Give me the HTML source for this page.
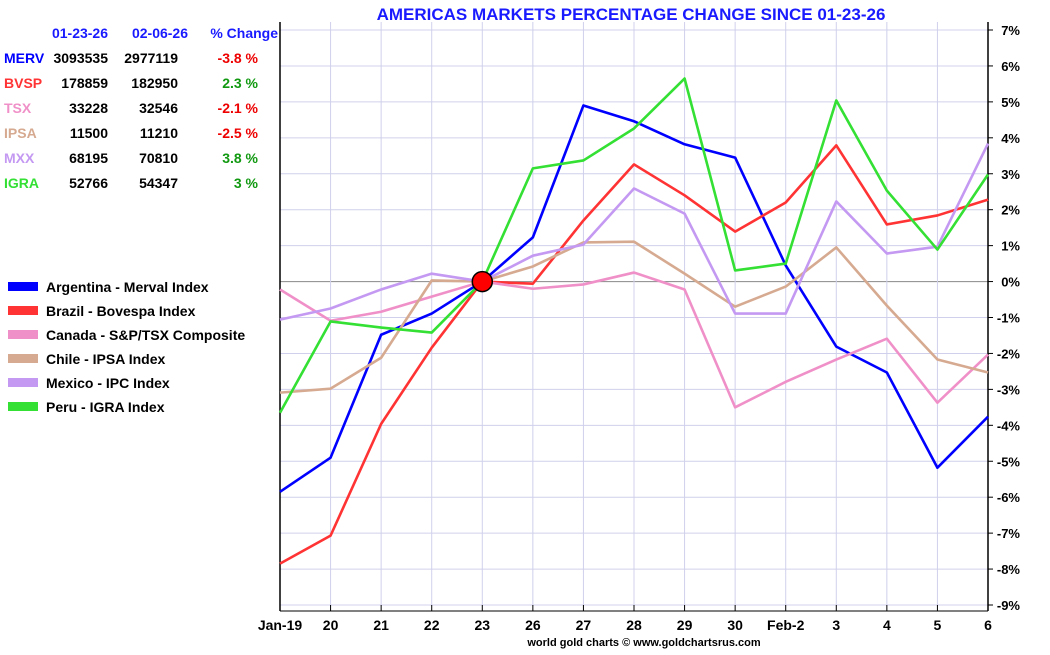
<!DOCTYPE html>
<html><head><meta charset="utf-8"><style>
body{margin:0;background:#fff;width:1050px;height:650px;overflow:hidden;font-family:"Liberation Sans",sans-serif}
svg text{font-family:"Liberation Sans",sans-serif;font-weight:bold}
</style></head><body>
<svg id="chart" width="1050" height="650"></svg>
<script>
const categories=["Jan-19","20","21","22","23","26","27","28","29","30","Feb-2","3","4","5","6"];
const yTicks=[7,6,5,4,3,2,1,0,-1,-2,-3,-4,-5,-6,-7,-8,-9];
const seriesNames=["Argentina - Merval Index","Brazil - Bovespa Index","Canada - S&P/TSX Composite","Chile - IPSA Index","Mexico - IPC Index","Peru - IGRA Index"];
const seriesColors=["#0000ff","#ff3333","#f090c8","#d6aa90","#c499f2","#33e033"];
const argentina=[-5.85,-4.9,-1.48,-0.89,0,1.23,4.9,4.46,3.82,3.45,0.45,-1.81,-2.53,-5.18,-3.76];
const brazil=[-7.85,-7.07,-3.96,-1.84,0,-0.06,1.7,3.26,2.4,1.39,2.2,3.79,1.59,1.84,2.28];
const canada=[-0.22,-1.09,-0.84,-0.42,0,-0.2,-0.08,0.25,-0.22,-3.5,-2.79,-2.17,-1.59,-3.37,-2.03];
const chile=[-3.09,-2.98,-2.12,0.03,0,0.42,1.09,1.11,0.22,-0.7,-0.14,0.95,-0.67,-2.17,-2.53];
const mexico=[-1.06,-0.75,-0.22,0.22,0,0.72,1.03,2.59,1.89,-0.89,-0.89,2.23,0.78,0.97,3.84];
const peru=[-3.65,-1.11,-1.28,-1.42,0,3.15,3.37,4.26,5.65,0.31,0.5,5.04,2.53,0.89,2.98];
const tableRows=[["MERV","3093535","2977119","-3.8 %"],["BVSP","178859","182950","2.3 %"],["TSX","33228","32546","-2.1 %"],["IPSA","11500","11210","-2.5 %"],["MXX","68195","70810","3.8 %"],["IGRA","52766","54347","3 %"]];
const allSeries=[argentina,brazil,canada,chile,mexico,peru];
const NS="http://www.w3.org/2000/svg";
const svg=document.getElementById("chart");
const X0=280,X1=988,Y7=30,Y9=605;
function xs(i){return X0+(X1-X0)*i/(categories.length-1);}
function ys(v){return Y7+(7-v)*(Y9-Y7)/16;}
function mk(tag,attrs,parent){const e=document.createElementNS(NS,tag);for(const k in attrs)e.setAttribute(k,attrs[k]);(parent||svg).appendChild(e);return e;}
function txt(s,attrs,parent){const e=mk("text",attrs,parent);e.textContent=s;return e;}
// grid
yTicks.forEach(v=>{
 const l=mk("line",{x1:X0,x2:X1,y1:ys(v),y2:ys(v),stroke:v===0?"#888":"#d0d0ec","stroke-width":1});
 
 
 mk("line",{x1:X1,x2:X1+5,y1:ys(v),y2:ys(v),stroke:"#000"});
 const t=txt(v+"%",{x:1020,y:ys(v)+5,"font-size":13,"text-anchor":"end",fill:"#000"});
 
 
});
categories.forEach((c,i)=>{
 const l=mk("line",{x1:xs(i),x2:xs(i),y1:Y7-8,y2:Y9,stroke:"#d0d0ec"});
 
 
 mk("line",{x1:xs(i),x2:xs(i),y1:Y9,y2:Y9+6,stroke:"#000"});
 const t=txt(c,{x:xs(i),y:630,"font-size":14,"text-anchor":"middle",fill:"#000"});
 
 
});
mk("line",{x1:X0,x2:X0,y1:22,y2:Y9+6,stroke:"#000","stroke-width":1.5});
mk("line",{x1:X1,x2:X1,y1:22,y2:Y9+6,stroke:"#000","stroke-width":1.5});
mk("line",{x1:X0,x2:X1,y1:Y9+6,y2:Y9+6,stroke:"#000","stroke-width":1});
// series
allSeries.forEach((s,k)=>{
 const p=mk("polyline",{points:s.map((v,i)=>xs(i)+","+ys(v)).join(" "),fill:"none",stroke:seriesColors[k],"stroke-width":2.6,"stroke-linejoin":"round"});
 
 
});
const m=mk("circle",{cx:xs(4),cy:ys(0),r:10,fill:"#ff0000",stroke:"#000","stroke-width":1.5});


// title
const ti=txt("AMERICAS MARKETS PERCENTAGE CHANGE SINCE 01-23-26",{x:631,y:20,"font-size":17,"text-anchor":"middle",fill:"#1a1aff"});


// table
const hdr=[["01-23-26",108],["02-06-26",188],["% Change",278]];
hdr.forEach(h=>{const t=txt(h[0],{x:h[1],y:38,"font-size":14,"text-anchor":"end",fill:"#1a1aff"});
 
 });
tableRows.forEach((r,k)=>{
 const y=63+k*25;
 const a=txt(r[0],{x:4,y:y,"font-size":14,fill:seriesColors[k]});
 
 
 txt(r[1],{x:108,y:y,"font-size":14,"text-anchor":"end",fill:"#000"});
 txt(r[2],{x:178,y:y,"font-size":14,"text-anchor":"end",fill:"#000"});
 const c=txt(r[3],{x:258,y:y,"font-size":14,"text-anchor":"end",fill:r[3][0]==="-"?"#ee0000":"#119911"});
 
 
});
// legend
seriesNames.forEach((n,k)=>{
 const y=288+k*24;
 const r=mk("rect",{x:8,y:y-6,width:30,height:9,fill:seriesColors[k]});
 
 
 const t=txt(n,{x:46,y:y+4,"font-size":14,fill:"#000"});
 
 
});
const f=txt("world gold charts © www.goldchartsrus.com",{x:644,y:646,"font-size":11,"text-anchor":"middle",fill:"#000"});
f.setAttribute("font-weight","normal");


</script>
</body></html>
